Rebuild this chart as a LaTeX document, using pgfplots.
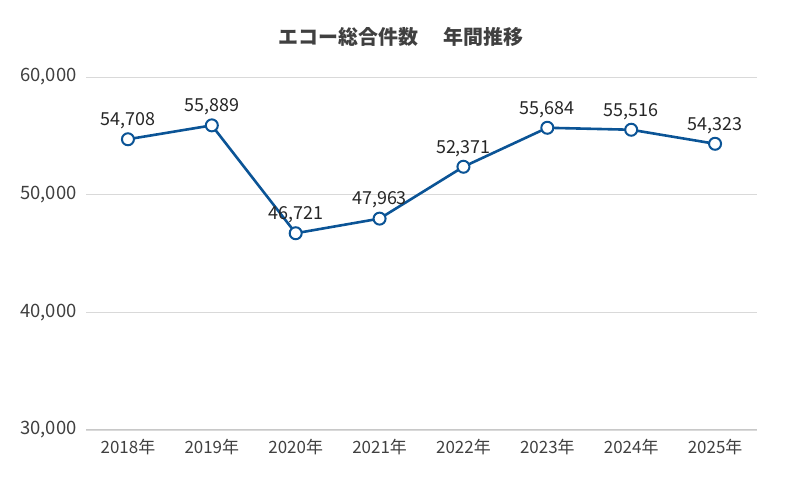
\documentclass[border=0pt]{standalone}
\usepackage{fontspec}
\setmainfont{Noto Sans CJK JP}
\usepackage{pgfplots}
\pgfplotsset{compat=1.18}
\definecolor{lineblue}{RGB}{11,84,150}
\definecolor{gridgray}{RGB}{217,217,217}
\definecolor{axisgray}{RGB}{200,200,200}
\definecolor{textgray}{RGB}{64,64,64}
\definecolor{labeltext}{RGB}{38,38,38}
\begin{document}
\begin{tikzpicture}[x=1bp,y=1bp]
\useasboundingbox (0,0) rectangle (800,480);
\node[font=\fontsize{20}{24}\selectfont\bfseries, text=textgray] at (401,443) {エコー総合件数\hspace{1.3em}年間推移};
\begin{axis}[
  at={(86bp,50bp)}, anchor=south west,
  scale only axis, width=671bp, height=353bp,
  xmin=-0.5, xmax=7.5, ymin=30000, ymax=60000,
  xtick={0,...,7},
  xticklabels={2018年,2019年,2020年,2021年,2022年,2023年,2024年,2025年},
  ytick={30000,40000,50000,60000},
  ymajorgrids, grid style={gridgray, line width=0.8bp},
  axis x line*=bottom, axis y line*=left,
  x axis line style={axisgray, line width=1bp, -},
  y axis line style={draw=none},
  major tick length=0pt,
  tick label style={font=\fontsize{17}{20}\selectfont, text=textgray},
  yticklabel style={anchor=east, xshift=-6bp, font=\fontsize{18.5}{20}\selectfont},
  xticklabel style={yshift=-6bp},
  /pgf/number format/assume math mode=true,
  scaled y ticks=false,
  yticklabel={\pgfmathprintnumber[fixed, 1000 sep={,}]{\tick}},
  clip=false,
  nodes near coords={\pgfmathprintnumber[fixed,1000 sep={,}]{\pgfplotspointmeta}},
  point meta=explicit,
  every node near coord/.append style={font=\fontsize{18}{21}\selectfont, text=labeltext, yshift=6bp},
]
\addplot[lineblue, line width=2.6bp, mark=*, mark size=6bp,
  mark options={fill=white, draw=lineblue, line width=2bp}]
  coordinates {
  (0,54708) [54708]
  (1,55889) [55889]
  (2,46721) [46721]
  (3,47963) [47963]
  (4,52371) [52371]
  (5,55684) [55684]
  (6,55516) [55516]
  (7,54323) [54323]
  };
\end{axis}
\end{tikzpicture}
\end{document}
